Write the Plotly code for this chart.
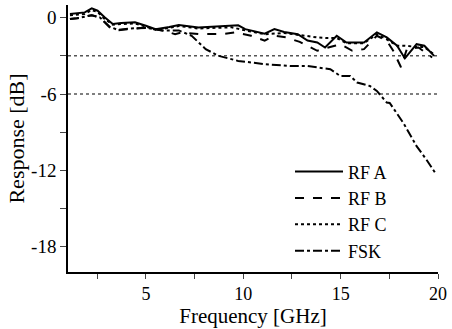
import plotly.graph_objects as go

# RF A (solid)
rfa_f = [1.1, 1.86, 2.22, 2.52, 2.88, 3.3, 3.73, 4.44, 5.0, 5.5, 6.2, 6.69, 7.7, 9.4, 9.74, 10.1, 11.1, 11.6, 12.1, 12.8, 13.3, 13.8, 14.2, 14.8, 15.3, 16.2, 16.86, 17.37, 17.9, 18.3, 18.9, 19.3, 19.8]
rfa_v = [0.3, 0.42, 0.74, 0.55, 0.03, -0.5, -0.42, -0.36, -0.63, -0.9, -0.73, -0.58, -0.76, -0.63, -0.6, -0.9, -1.25, -0.9, -1.13, -1.3, -1.8, -1.95, -2.34, -1.42, -1.95, -1.95, -1.15, -1.55, -2.2, -3.2, -2.08, -2.2, -3.0]

# RF B (dashed)
rfb_f = [1.1, 1.46, 2.22, 2.63, 3.14, 3.54, 4.15, 5.0, 5.9, 6.5, 6.85, 7.7, 8.9, 9.6, 10.4, 11.1, 11.6, 12.2, 12.9, 13.8, 14.7, 15.0, 15.6, 16.2, 16.86, 17.37, 17.7, 18.1, 18.4, 19.0, 19.7]
rfb_v = [-0.1, -0.05, 0.2, 0.03, -0.76, -1.0, -0.9, -0.76, -1.03, -1.29, -1.15, -1.29, -1.29, -1.15, -1.42, -1.8, -1.42, -1.55, -1.9, -2.6, -2.2, -2.1, -2.6, -2.47, -1.42, -1.8, -2.6, -3.9, -2.47, -2.34, -3.13]

# RF C (dotted)
rfc_f = [1.1, 1.86, 2.22, 2.52, 2.88, 3.3, 3.73, 4.44, 5.0, 5.5, 6.2, 6.69, 7.7, 9.4, 10.1, 11.1, 12.1, 12.8, 13.3, 13.8, 14.3, 14.8, 15.3, 16.2, 16.86, 17.37, 17.9, 18.3, 18.9, 19.3, 19.8]
rfc_v = [0.2, 0.3, 0.6, 0.45, -0.1, -0.55, -0.5, -0.45, -0.7, -0.95, -0.8, -0.65, -0.85, -0.75, -1.0, -1.3, -1.2, -1.35, -1.5, -1.55, -1.6, -1.6, -2.0, -2.0, -1.3, -1.7, -2.2, -2.2, -2.3, -2.3, -2.9]

# FSK (dash-dot)
fsk_f = [1.1, 1.46, 2.22, 2.63, 3.14, 3.54, 4.15, 5.0, 5.9, 6.69, 7.35, 8.07, 8.73, 9.74, 11.1, 12.4, 13.3, 13.8, 14.47, 14.98, 15.49, 15.85, 16.5, 16.86, 17.0, 17.37, 17.52, 18.23, 18.9, 19.4, 19.9]
fsk_v = [-0.1, -0.05, 0.2, 0.03, -0.7, -0.95, -0.85, -0.8, -1.0, -1.0, -1.42, -2.47, -3.0, -3.4, -3.65, -3.8, -3.8, -3.9, -4.05, -4.58, -4.58, -5.1, -5.37, -5.76, -6.0, -6.67, -6.7, -8.3, -10.1, -11.15, -12.3]

ref_levels = [-3, -6]
x_ticks = [5, 10, 15, 20]
x_labels = ["5", "10", "15", "20"]
y_ticks = [0, -6, -12, -18]
y_labels = ["0", "-6", "-12", "-18"]

FONT = "Liberation Serif"
fig = go.Figure()
series = [
    ("RF A", rfa_f, rfa_v, "solid"),
    ("RF B", rfb_f, rfb_v, "dash"),
    ("RF C", rfc_f, rfc_v, "dot"),
    ("FSK", fsk_f, fsk_v, "dashdot"),
]
for name, f, v, dash in series:
    fig.add_trace(go.Scatter(x=f, y=v, name=name, mode="lines", legendgroup=name,
                             line=dict(color="black", width=2, dash=dash)))

for lv in ref_levels:
    fig.add_shape(type="line", xref="paper", yref="y", x0=0, x1=1, y0=lv, y1=lv,
                  line=dict(color="#555", width=1.5, dash="dot"), layer="below")

fig.update_layout(
    width=452, height=329,
    margin=dict(l=68, r=12, t=5, b=57),
    paper_bgcolor="white", plot_bgcolor="white",
    font=dict(family=FONT, size=19, color="black"),
    showlegend=True,
    legend=dict(x=0.6, y=0.01, xanchor="left", yanchor="bottom", bgcolor="rgba(0,0,0,0)",
                font=dict(family=FONT, size=18), tracegroupgap=0, itemwidth=48),
    xaxis=dict(range=[1, 20], tickvals=x_ticks, ticktext=x_labels, showline=True, linecolor="black", linewidth=1.5,
               ticks="outside", ticklen=5, tickwidth=1.2, showgrid=False, zeroline=False,
               tickfont=dict(size=18),
               minor=dict(tickvals=[2.5, 7.5, 12.5, 17.5], ticks="outside", ticklen=5, tickwidth=1.2),
               title=dict(text="Frequency [GHz]", font=dict(size=21), standoff=4)),
    yaxis=dict(range=[-20, 1], tickvals=y_ticks, ticktext=y_labels, showline=True, linecolor="black", linewidth=1.5,
               ticks="outside", ticklen=6, tickwidth=1.2, showgrid=False, zeroline=False,
               tickfont=dict(size=19),
               minor=dict(tickvals=[-3, -9, -15], ticks="outside", ticklen=6, tickwidth=1.2),
               title=dict(text="Response [dB]", font=dict(size=22), standoff=0)),
)
fig.write_html("out.html")
